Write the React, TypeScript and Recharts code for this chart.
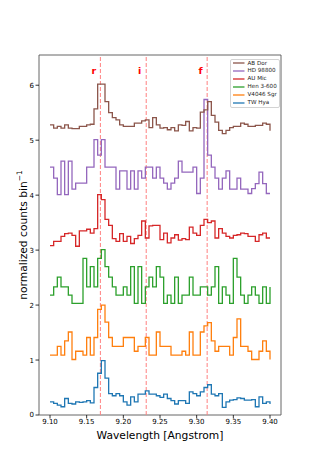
import React from 'react';
import { LineChart, Line, XAxis, YAxis, ReferenceLine, ReferenceArea, Legend } from 'recharts';

// wavelength bin starts [Angstrom]
const wavelength = [
  9.100, 9.105, 9.110, 9.115, 9.120, 9.125, 9.130, 9.135, 9.140, 9.145,
  9.150, 9.155, 9.160, 9.165, 9.170, 9.175, 9.180, 9.185, 9.190, 9.195,
  9.200, 9.205, 9.210, 9.215, 9.220, 9.225, 9.230, 9.235, 9.240, 9.245,
  9.250, 9.255, 9.260, 9.265, 9.270, 9.275, 9.280, 9.285, 9.290, 9.295,
  9.300, 9.305, 9.310, 9.315, 9.320, 9.325, 9.330, 9.335, 9.340, 9.345,
  9.350, 9.355, 9.360, 9.365, 9.370, 9.375, 9.380, 9.385, 9.390, 9.395,
  9.400,
];

// normalized counts, already offset per star
const twHya = [
  0.24, 0.21, 0.18, 0.15, 0.30, 0.21, 0.20, 0.24, 0.23, 0.24,
  0.26, 0.22, 0.50, 0.76, 0.99, 0.67, 0.39, 0.35, 0.39, 0.35,
  0.24, 0.18, 0.33, 0.24, 0.38, 0.38, 0.44, 0.38, 0.38, 0.35,
  0.32, 0.38, 0.30, 0.26, 0.20, 0.26, 0.26, 0.21, 0.42, 0.39,
  0.35, 0.42, 0.50, 0.55, 0.38, 0.35, 0.39, 0.14, 0.24, 0.27,
  0.28, 0.31, 0.30, 0.27, 0.27, 0.28, 0.15, 0.33, 0.21, 0.24,
  0.20,
];
const v4046 = [
  1.09, 1.09, 1.25, 1.09, 1.35, 1.51, 1.01, 1.16, 1.16, 1.09,
  1.41, 1.09, 1.41, 1.92, 2.00, 1.69, 1.41, 1.25, 1.25, 1.25,
  1.41, 1.41, 1.41, 1.16, 1.25, 1.25, 1.41, 1.09, 1.09, 1.51,
  1.25, 1.25, 1.25, 1.09, 1.09, 1.09, 1.16, 1.09, 1.51, 1.09,
  1.09, 1.51, 1.62, 1.68, 1.35, 1.16, 1.25, 1.25, 1.25, 1.09,
  1.41, 1.75, 1.25, 1.25, 1.16, 1.01, 1.01, 1.16, 1.35, 1.16,
  1.01,
];
const hen3600 = [
  2.18, 2.33, 2.51, 2.33, 2.33, 2.18, 2.03, 2.03, 2.03, 2.85,
  2.33, 2.70, 2.33, 2.85, 3.01, 2.70, 2.51, 2.33, 2.18, 2.18,
  2.33, 2.18, 2.70, 2.03, 2.70, 2.03, 2.33, 2.51, 2.33, 2.70,
  2.51, 2.03, 2.18, 2.03, 2.51, 2.03, 2.18, 2.18, 2.51, 2.18,
  2.18, 2.33, 2.33, 2.18, 2.33, 2.70, 2.03, 2.33, 2.18, 2.03,
  2.85, 2.51, 2.18, 2.03, 2.18, 2.33, 2.18, 2.03, 2.33, 2.03,
  2.33,
];
const auMic = [
  3.08, 3.16, 3.16, 3.25, 3.30, 3.31, 3.27, 3.07, 3.35, 3.35,
  3.38, 3.31, 3.39, 4.01, 3.92, 3.56, 3.45, 3.21, 3.16, 3.30,
  3.16, 3.25, 3.12, 3.21, 3.27, 3.53, 3.22, 3.44, 3.45, 3.45,
  3.19, 3.31, 3.13, 3.22, 3.28, 3.18, 3.21, 3.19, 3.42, 3.31,
  3.27, 3.45, 3.56, 3.50, 3.53, 3.22, 3.39, 3.31, 3.25, 3.22,
  3.27, 3.28, 3.31, 3.30, 3.25, 3.25, 3.16, 3.28, 3.31, 3.22,
  3.22,
];
const hd98800 = [
  4.51, 4.31, 4.01, 4.62, 4.01, 4.62, 4.11, 4.22, 4.22, 4.22,
  4.51, 4.51, 5.01, 4.73, 5.01, 4.51, 4.51, 4.51, 4.11, 4.44,
  4.44, 4.11, 4.44, 4.11, 4.44, 4.31, 4.51, 4.51, 4.31, 4.51,
  4.31, 4.22, 4.11, 4.22, 4.31, 4.62, 4.42, 4.42, 4.42, 4.51,
  4.03, 4.31, 5.74, 4.73, 4.51, 4.31, 4.11, 4.31, 4.44, 4.11,
  4.11, 4.31, 4.11, 4.11, 4.03, 4.12, 4.21, 4.42, 4.21, 4.03,
  4.03,
];
const abDor = [
  5.28, 5.22, 5.25, 5.22, 5.28, 5.22, 5.21, 5.21, 5.25, 5.25,
  5.28, 5.29, 5.57, 6.02, 6.02, 5.70, 5.50, 5.41, 5.37, 5.28,
  5.25, 5.25, 5.25, 5.31, 5.31, 5.35, 5.37, 5.23, 5.41, 5.28,
  5.22, 5.23, 5.19, 5.23, 5.17, 5.28, 5.27, 5.34, 5.17, 5.23,
  5.22, 5.51, 5.55, 5.70, 5.45, 5.33, 5.18, 5.12, 5.18, 5.23,
  5.25, 5.25, 5.31, 5.29, 5.25, 5.25, 5.27, 5.27, 5.31, 5.29,
  5.17,
];

const seriesNames = ['TW Hya', 'V4046 Sgr', 'Hen 3-600', 'AU Mic', 'HD 98800', 'AB Dor'];
const seriesKeys = ['twHya', 'v4046', 'hen3600', 'auMic', 'hd98800', 'abDor'];
const seriesColors = ['#1f77b4', '#ff7f0e', '#2ca02c', '#d62728', '#9467bd', '#8c564b'];
const seriesValues = [twHya, v4046, hen3600, auMic, hd98800, abDor];

// Si XIII triplet
const lineLabels = ['r', 'i', 'f'];
const lineWaves = [9.1687, 9.2312, 9.3143];

const xTicks = [9.10, 9.15, 9.20, 9.25, 9.30, 9.35, 9.40];
const yTicks = [0, 1, 2, 3, 4, 5, 6];

const data = wavelength.map((w, i) => {
  const row: Record<string, number> = { w };
  seriesKeys.forEach((k, j) => {
    row[k] = seriesValues[j][i];
  });
  return row;
});

const FONT = 'DejaVu Sans, sans-serif';

const SpectraLegend = () => (
  <div
    style={{
      width: 50,
      boxSizing: 'border-box',
      border: '1px solid #d3d3d3',
      borderRadius: 2,
      background: 'rgba(255,255,255,0.85)',
      fontFamily: FONT,
    }}
  >
    {seriesNames
      .map((name, j) => ({ name, color: seriesColors[j] }))
      .reverse()
      .map((s) => (
        <div key={s.name} style={{ display: 'flex', alignItems: 'center', height: 7.85 }}>
          <svg width={15} height={4} style={{ marginLeft: 1.5 }}>
            <line x1={0} x2={11.5} y1={2} y2={2} stroke={s.color} strokeWidth={1.3} />
          </svg>
          <span style={{ fontSize: 5.6, color: '#222', whiteSpace: 'nowrap', lineHeight: '7.85px' }}>
            {s.name}
          </span>
        </div>
      ))}
  </div>
);

const YLabel = (props: any) => {
  const vb = props.viewBox;
  const cx = vb.x + 14;
  const cy = vb.y + vb.height / 2;
  return (
    <text
      x={cx}
      y={cy}
      transform={`rotate(-90 ${cx} ${cy})`}
      textAnchor="middle"
      dominantBaseline="central"
      fontSize={10.7}
      fontFamily={FONT}
      fill="#000"
    >
      normalized counts bin
      <tspan dy={-4} fontSize={7.5}>−1</tspan>
    </text>
  );
};

const lineLabel = (text: string) => (props: any) => {
  const vb = props.viewBox;
  const top = vb.height < 0 ? vb.y + vb.height : vb.y;
  return (
    <text
      x={vb.x - 6.5}
      y={top + 19}
      textAnchor="middle"
      fontSize={9.5}
      fontWeight="bold"
      fontFamily={FONT}
      fill="#ff0000"
    >
      {text}
    </text>
  );
};

export default function App() {
  return (
    <div style={{ position: 'absolute', left: 0, top: 0, width: 312, height: 467, background: '#fff' }}>
      <LineChart
        width={312}
        height={467}
        data={data}
        margin={{ top: 55, right: 31, bottom: 22, left: 9 }}
        style={{ fontFamily: FONT }}
      >
        <XAxis
          dataKey="w"
          type="number"
          domain={[9.085, 9.415]}
          allowDataOverflow
          ticks={xTicks}
          tickFormatter={(v: number) => v.toFixed(2)}
          height={30}
          axisLine={false}
          tickSize={3.5}
          tickMargin={1}
          tickLine={{ stroke: '#000', strokeWidth: 0.8 }}
          tick={{ fill: '#000', fontSize: 7, fontFamily: FONT }}
          label={{
            value: 'Wavelength [Angstrom]',
            position: 'insideBottom',
            offset: 6,
            fontSize: 10.7,
            fill: '#000',
            fontFamily: FONT,
          }}
        />
        <YAxis
          type="number"
          domain={[0, 6.55]}
          allowDataOverflow
          ticks={yTicks}
          width={30}
          axisLine={false}
          tickSize={3.5}
          tickMargin={1.5}
          tickLine={{ stroke: '#000', strokeWidth: 0.8 }}
          tick={{ fill: '#000', fontSize: 7, fontFamily: FONT }}
          label={<YLabel />}
        />
        {lineWaves.map((w, k) => (
          <ReferenceLine
            key={lineLabels[k]}
            x={w}
            stroke="#ff8080"
            strokeWidth={1}
            strokeDasharray="4 2"
            label={lineLabel(lineLabels[k])}
          />
        ))}
        {seriesKeys.map((k, j) => (
          <Line
            key={k}
            dataKey={k}
            name={seriesNames[j]}
            type="stepAfter"
            stroke={seriesColors[j]}
            strokeWidth={1.3}
            dot={false}
            activeDot={false}
            isAnimationActive={false}
          />
        ))}
        <ReferenceArea
          x1={9.085}
          x2={9.415}
          y1={0}
          y2={6.55}
          fill="none"
          stroke="#555"
          strokeWidth={0.9}
        />
        <Legend
          layout="vertical"
          align="center"
          verticalAlign="middle"
          content={<SpectraLegend />}
          wrapperStyle={{ left: 230, top: 58.5, width: 50, height: 'auto' }}
        />
      </LineChart>
    </div>
  );
}
